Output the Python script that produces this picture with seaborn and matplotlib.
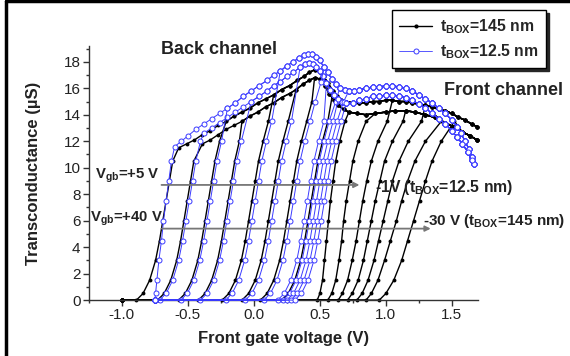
import matplotlib
matplotlib.use('Agg')
from matplotlib import pyplot as plt
from matplotlib.lines import Line2D
from matplotlib.ticker import MultipleLocator
import numpy as np
import pandas as pd
import seaborn as sns

# transconductance levels (uS) at which the rising edge of every curve was read
LEVELS = [0, 0.5, 1.5, 3, 4.5, 6, 7.5, 9, 10.5, 12, 13.5, 15, 16.5]

BLACK_START = -1.0   # sweep start, tBOX = 145 nm
BLUE_START = -0.75   # sweep start, tBOX = 12.5 nm

# tBOX = 145 nm, Vgb = +40 ... -30 V : front gate voltage at each level
BLACK_RISE_X = [
    [-0.89, -0.84, -0.79, -0.745, -0.715, -0.69, -0.665, -0.64, -0.615],
    [-0.73, -0.68, -0.63, -0.585, -0.555, -0.53, -0.505, -0.48, -0.455],
    [-0.57, -0.52, -0.47, -0.425, -0.395, -0.37, -0.345, -0.32, -0.295, -0.26],
    [-0.42, -0.37, -0.32, -0.275, -0.245, -0.22, -0.195, -0.17, -0.145, -0.11],
    [-0.24, -0.19, -0.14, -0.095, -0.065, -0.04, -0.015, 0.01, 0.035, 0.07, 0.11],
    [-0.09, -0.04, 0.01, 0.055, 0.085, 0.11, 0.135, 0.16, 0.185, 0.22, 0.26],
    [0.05, 0.10, 0.15, 0.195, 0.225, 0.25, 0.275, 0.30, 0.325, 0.36, 0.40, 0.44],
    [0.21, 0.26, 0.31, 0.355, 0.385, 0.41, 0.435, 0.46, 0.485, 0.52, 0.56],
    [0.48, 0.50, 0.52, 0.535, 0.55, 0.565, 0.58, 0.60, 0.62, 0.65, 0.69],
    [0.56, 0.59, 0.62, 0.645, 0.665, 0.68, 0.70, 0.725, 0.75, 0.79, 0.85],
    [0.64, 0.67, 0.71, 0.745, 0.775, 0.80, 0.825, 0.855, 0.89, 0.94, 1.01],
    [0.71, 0.745, 0.79, 0.83, 0.86, 0.89, 0.92, 0.955, 0.99, 1.05, 1.13],
    [0.78, 0.82, 0.865, 0.91, 0.945, 0.98, 1.015, 1.05, 1.10, 1.17, 1.27],
    [0.85, 0.89, 0.94, 0.99, 1.035, 1.08, 1.12, 1.165, 1.22, 1.30, 1.42],
    [0.95, 1.00, 1.06, 1.12, 1.165, 1.21, 1.255, 1.30, 1.35, 1.42, 1.52],
]
BLACK_TOP_PICK = 'ABABABBABBABABB'

# tBOX = 12.5 nm, Vgb = +5 ... -1 V
BLUE_RISE_X = [
    [-0.75, -0.745, -0.735, -0.72, -0.70, -0.685, -0.665, -0.645, -0.625],
    [-0.715, -0.665, -0.615, -0.57, -0.54, -0.515, -0.49, -0.465, -0.44, -0.405],
    [-0.555, -0.505, -0.455, -0.41, -0.38, -0.355, -0.33, -0.305, -0.28, -0.245],
    [-0.405, -0.355, -0.305, -0.26, -0.23, -0.205, -0.18, -0.155, -0.13, -0.095],
    [-0.215, -0.165, -0.115, -0.07, -0.04, -0.015, 0.01, 0.035, 0.06, 0.095, 0.135],
    [-0.065, -0.015, 0.035, 0.08, 0.11, 0.135, 0.16, 0.185, 0.21, 0.245, 0.285],
    [0.075, 0.125, 0.175, 0.22, 0.25, 0.275, 0.30, 0.325, 0.35, 0.385, 0.425, 0.465, 0.51],
    [0.18, 0.23, 0.28, 0.325, 0.355, 0.38, 0.405, 0.43, 0.455, 0.49, 0.53],
    [0.22, 0.27, 0.32, 0.365, 0.395, 0.42, 0.445, 0.47, 0.495, 0.53, 0.57, 0.62],
    [0.25, 0.30, 0.35, 0.395, 0.425, 0.45, 0.475, 0.50, 0.525, 0.56, 0.60],
    [0.28, 0.33, 0.38, 0.425, 0.455, 0.48, 0.505, 0.53, 0.555, 0.59, 0.63, 0.68],
    [0.31, 0.36, 0.41, 0.455, 0.485, 0.51, 0.535, 0.56, 0.585, 0.62, 0.66],
]
BLUE_TOP_PICK = 'ABABABABABAB'

# upper (A) / lower (B) edge of the saturated bands
BLK_TOP_A_X = [-0.57, -0.51, -0.45, -0.39, -0.33, -0.27, -0.21, -0.15, -0.09, -0.03, 0.03, 0.09,
               0.15, 0.21, 0.27, 0.33, 0.38, 0.42, 0.46, 0.50, 0.53, 0.56, 0.60, 0.63, 0.66, 0.70,
               0.75, 0.80, 0.85, 0.90, 0.95, 1.00, 1.05, 1.10, 1.15, 1.20, 1.25, 1.30, 1.35, 1.40,
               1.45, 1.50, 1.55, 1.60, 1.65, 1.69]
BLK_TOP_A_Y = [11.5, 11.8, 12.1, 12.5, 12.8, 13.2, 13.5, 13.9, 14.2, 14.5, 14.9, 15.2,
               15.5, 15.9, 16.2, 16.6, 16.9, 17.2, 17.4, 17.2, 16.9, 16.4, 15.8, 15.4, 15.1, 15.0,
               14.9, 14.9, 14.9, 15.0, 15.0, 15.1, 15.1, 15.0, 15.0, 14.9, 14.8, 14.7, 14.6, 14.4,
               14.3, 14.1, 13.8, 13.6, 13.3, 13.1]
BLK_TOP_B_X = [-0.45, -0.39, -0.33, -0.27, -0.21, -0.15, -0.09, -0.03, 0.03, 0.09, 0.15, 0.21,
               0.27, 0.32, 0.37, 0.42, 0.46, 0.50, 0.54, 0.57, 0.61, 0.64, 0.68, 0.72, 0.78, 0.85,
               0.92, 1.00, 1.07, 1.15, 1.22, 1.30, 1.37, 1.45, 1.51, 1.58, 1.64, 1.69]
BLK_TOP_B_Y = [11.4, 11.8, 12.1, 12.5, 12.9, 13.2, 13.5, 13.9, 14.2, 14.6, 14.9, 15.3,
               15.6, 15.9, 16.3, 16.6, 16.8, 16.7, 16.2, 15.6, 15.1, 14.7, 14.4, 14.2, 14.1, 14.0,
               14.1, 14.2, 14.3, 14.3, 14.2, 14.0, 13.8, 13.4, 13.1, 12.7, 12.4, 12.1]
BLU_TOP_A_X = [-0.60, -0.55, -0.50, -0.44, -0.38, -0.32, -0.26, -0.20, -0.14, -0.08, -0.02, 0.04,
               0.10, 0.15, 0.20, 0.25, 0.30, 0.34, 0.38, 0.41, 0.44, 0.47, 0.50, 0.53, 0.56, 0.59,
               0.62, 0.65, 0.69, 0.72, 0.76, 0.80, 0.85, 0.90, 0.95, 1.00, 1.05, 1.10, 1.15, 1.20,
               1.25, 1.30, 1.35, 1.40, 1.45, 1.50, 1.54, 1.57, 1.60, 1.63, 1.65, 1.67]
BLU_TOP_A_Y = [11.6, 12.0, 12.4, 12.9, 13.3, 13.7, 14.1, 14.5, 14.9, 15.4, 15.8, 16.2,
               16.6, 17.0, 17.3, 17.7, 18.0, 18.3, 18.5, 18.6, 18.6, 18.4, 18.1, 17.6, 17.2, 16.7,
               16.3, 16.0, 15.9, 15.8, 15.8, 15.9, 16.0, 16.1, 16.1, 16.2, 16.2, 16.1, 16.0, 15.8,
               15.5, 15.2, 14.9, 14.5, 14.1, 13.6, 13.1, 12.6, 12.0, 11.4, 10.8, 10.3]
BLU_TOP_B_X = [-0.50, -0.44, -0.38, -0.32, -0.26, -0.20, -0.14, -0.08, -0.02, 0.04, 0.10, 0.15,
               0.20, 0.25, 0.30, 0.35, 0.39, 0.42, 0.45, 0.47, 0.50, 0.52, 0.55, 0.58, 0.61, 0.64,
               0.67, 0.70, 0.75, 0.80, 0.85, 0.90, 0.95, 1.00, 1.05, 1.10, 1.15, 1.20, 1.25, 1.30,
               1.35, 1.40, 1.45, 1.50, 1.54, 1.58, 1.62, 1.65]
BLU_TOP_B_Y = [11.8, 12.2, 12.6, 13.0, 13.4, 13.8, 14.2, 14.6, 15.0, 15.4, 15.8, 16.2,
               16.5, 16.9, 17.2, 17.6, 17.8, 17.9, 17.8, 17.6, 17.3, 16.9, 16.4, 15.9, 15.5, 15.2,
               15.0, 14.9, 14.9, 15.1, 15.2, 15.4, 15.4, 15.5, 15.5, 15.4, 15.3, 15.1, 14.8, 14.5,
               14.1, 13.7, 13.3, 12.8, 12.3, 11.8, 11.2, 10.6]


def build(rise, pick, start, top_a, top_b):
    xs = [start] + list(rise)
    ys = [0] + LEVELS[:len(rise)]
    tx, ty = top_a if pick == 'A' else top_b
    for a, b in zip(tx, ty):
        if a > rise[-1] + 0.015:
            xs.append(a)
            ys.append(b)
    return xs, ys


rows = []
for i, (r, p) in enumerate(zip(BLACK_RISE_X, BLACK_TOP_PICK)):
    xs, ys = build(r, p, BLACK_START, (BLK_TOP_A_X, BLK_TOP_A_Y), (BLK_TOP_B_X, BLK_TOP_B_Y))
    rows += [('145', i, a, b) for a, b in zip(xs, ys)]
for i, (r, p) in enumerate(zip(BLUE_RISE_X, BLUE_TOP_PICK)):
    xs, ys = build(r, p, BLUE_START, (BLU_TOP_A_X, BLU_TOP_A_Y), (BLU_TOP_B_X, BLU_TOP_B_Y))
    rows += [('12.5', i, a, b) for a, b in zip(xs, ys)]
df = pd.DataFrame(rows, columns=['tbox', 'curve', 'vfg', 'gm'])

sns.set_style('ticks')
plt.rcParams['font.family'] = ['Liberation Sans', 'DejaVu Sans']
plt.rcParams['mathtext.default'] = 'regular'
plt.rcParams['axes.unicode_minus'] = False

BLUE = '#3b3bff'
TXT = '#222222'

fig = plt.figure(figsize=(5.7, 3.56), dpi=100)
ax = fig.add_axes([0.156, 0.157, 0.683, 0.714])

for c, sub in df[df.tbox == '145'].groupby('curve'):
    sns.lineplot(data=sub, x='vfg', y='gm', ax=ax, sort=False, estimator=None,
                 color='black', lw=1.0, marker='o', markersize=2.8, mec='black',
                 mew=0, clip_on=False, zorder=2)
for c, sub in df[df.tbox == '12.5'].groupby('curve'):
    sns.lineplot(data=sub, x='vfg', y='gm', ax=ax, sort=False, estimator=None,
                 color=BLUE, lw=0.7, marker='o', markersize=3.6, mec=BLUE,
                 markerfacecolor='white', mew=0.7, clip_on=False, zorder=3)

ax.set_xlim(-1.25, 1.70)
ax.set_ylim(0, 19.2)
ax.xaxis.set_major_locator(MultipleLocator(0.5))
ax.xaxis.set_minor_locator(MultipleLocator(0.25))
ax.yaxis.set_major_locator(MultipleLocator(2))
ax.yaxis.set_minor_locator(MultipleLocator(1))
ax.set_xticks([-1.0, -0.5, 0.0, 0.5, 1.0, 1.5])
ax.set_xticklabels(['-1.0', '-0.5', '0.0', '0.5', '1.0', '1.5'])
ax.tick_params(which='major', direction='out', length=4, width=1, color='#333',
               labelsize=11, labelcolor=TXT, pad=2)
ax.tick_params(which='minor', direction='out', length=2, width=1, color='#333')
sns.despine(ax=ax)
for s in ['left', 'bottom']:
    ax.spines[s].set_color('#333')
    ax.spines[s].set_linewidth(1)

ax.set_xlabel('Front gate voltage (V)', fontsize=12, weight='bold', color=TXT, labelpad=6)
ax.set_ylabel('Transconductance (\u00b5S)', fontsize=12, weight='bold', color=TXT, labelpad=16)

ax.text(-0.265, 18.95, 'Back channel', ha='center', va='center', fontsize=13,
        weight='bold', color=TXT, clip_on=False)
ax.text(1.89, 15.8, 'Front channel', ha='center', va='center', fontsize=13,
        weight='bold', color=TXT, clip_on=False)

arr = dict(arrowstyle='-|>', color='#777777', lw=1.3, mutation_scale=8,
           shrinkA=0, shrinkB=0)
ax.annotate('', xy=(0.80, 8.7), xytext=(-0.70, 8.7), arrowprops=arr, zorder=5)
ax.annotate('', xy=(1.34, 5.4), xytext=(-0.70, 5.4), arrowprops=arr, zorder=5)
ax.text(-1.205, 9.35, 'V$_{gb}$=+5 V', ha='left', va='center', fontsize=10.7,
        weight='bold', color=TXT)
ax.text(-1.245, 6.15, 'V$_{gb}$=+40 V', ha='left', va='center', fontsize=10.7,
        weight='bold', color=TXT)
ax.text(0.915, 8.5, '-1V (t$_{BOX}$=12.5 nm)', ha='left', va='center', fontsize=11.3,
        weight='bold', color=TXT, clip_on=False)
ax.text(1.28, 5.95, '-30 V (t$_{BOX}$=145 nm)', ha='left', va='center', fontsize=11,
        weight='bold', color=TXT, clip_on=False)

handles = [
    Line2D([], [], color='black', lw=1.0, marker='o', markersize=3, mew=0),
    Line2D([], [], color=BLUE, lw=0.6, marker='o', markersize=3.6, mec=BLUE,
           markerfacecolor='white', mew=0.7),
]
fig.legend(handles, ['t$_{BOX}$=145 nm', 't$_{BOX}$=12.5 nm'], loc='upper right',
           bbox_to_anchor=(0.958, 0.972), frameon=True, fancybox=False,
           edgecolor='black', shadow={'color': '0.15', 'alpha': 1},
           prop={'weight': 'bold', 'size': 11.3}, handlelength=2.1,
           borderpad=0.45, labelspacing=0.4, handletextpad=0.5, borderaxespad=0)

# outer frame of the scanned figure (top and left edges only)
fig.add_artist(Line2D([0.0105, 1.0], [0.9958, 0.9958], transform=fig.transFigure,
                      color='black', lw=2.5))
fig.add_artist(Line2D([0.0105, 0.0105], [0.0, 0.9958], transform=fig.transFigure,
                      color='black', lw=2.5))

fig.savefig('out.png', dpi=100)
